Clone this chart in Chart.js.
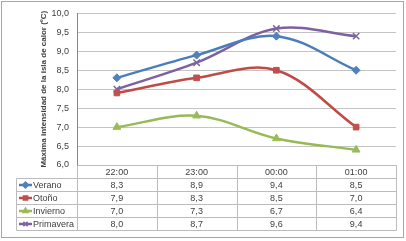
<!DOCTYPE html>
<html>
<head>
<meta charset="utf-8">
<script src="https://cdn.jsdelivr.net/npm/chart.js@4"></script>
<style>
  html, body { margin: 0; padding: 0; background: #fff; }
</style>
</head>
<body>
<canvas id="chart" width="406" height="241"></canvas>
<script>
// Datos
const horas = ["22:00", "23:00", "00:00", "01:00"];
const nombres = ["Verano", "Otoño", "Invierno", "Primavera"];
const verano = [8.3, 8.9, 9.4, 8.5];
const otono = [7.9, 8.3, 8.5, 7.0];
const invierno = [7.0, 7.3, 6.7, 6.4];
const primavera = [8.0, 8.7, 9.6, 9.4];
const yMin = 6, yMax = 10, yStep = 0.5;

const series = [verano, otono, invierno, primavera];
const lineas = ["#4a7ebb", "#be4b48", "#98b954", "#7d60a0"];
const rellenos = ["#4f81bd", "#c0504d", "#9bbb59", "#8064a2"];
const marcas = ["rectRot", "rect", "triangle", "crossRot"];
const radios = [4, 4, 4.5, 4.5];

const fmt = v => v.toFixed(1).replace(".", ",");
const fuente = "'Liberation Sans', Arial, sans-serif";

// Tabla de datos debajo del grafico
const tablaPlugin = {
  id: "tabla",
  afterDraw(chart) {
    const ctx = chart.ctx;
    const x = chart.scales.x;
    const a = chart.chartArea;
    const rowH = 13;
    const top = Math.round(a.bottom) + 0.5;
    const legLeft = 16.5;
    const bottom = top + rowH * (series.length + 1);

    const bordes = [Math.round(a.left) + 0.5];
    for (let i = 0; i < horas.length - 1; i++) {
      bordes.push(Math.round((x.getPixelForValue(i) + x.getPixelForValue(i + 1)) / 2) + 0.5);
    }
    bordes.push(Math.round(a.right) + 0.5);

    ctx.save();
    ctx.strokeStyle = "#bcbcbc";
    ctx.lineWidth = 1;
    ctx.beginPath();
    ctx.moveTo(bordes[0], top);
    ctx.lineTo(bordes[bordes.length - 1], top);
    for (let r = 1; r <= series.length + 1; r++) {
      const y = top + r * rowH;
      ctx.moveTo(legLeft, y);
      ctx.lineTo(bordes[bordes.length - 1], y);
    }
    bordes.forEach(b => {
      ctx.moveTo(b, top);
      ctx.lineTo(b, bottom);
    });
    ctx.moveTo(legLeft, top + rowH);
    ctx.lineTo(legLeft, bottom);
    ctx.stroke();

    ctx.fillStyle = "#404040";
    ctx.font = "9px " + fuente;
    ctx.textAlign = "center";
    ctx.textBaseline = "middle";
    horas.forEach((h, i) => {
      ctx.fillText(h, x.getPixelForValue(i), top + rowH / 2 + 0.5);
    });
    series.forEach((s, r) => {
      const y = top + rowH * (r + 1) + rowH / 2 + 0.5;
      s.forEach((v, i) => ctx.fillText(fmt(v), x.getPixelForValue(i), y));
      // clave de leyenda
      ctx.strokeStyle = lineas[r];
      ctx.lineWidth = 2.5;
      ctx.beginPath();
      ctx.moveTo(19, y - 0.5);
      ctx.lineTo(32, y - 0.5);
      ctx.stroke();
      ctx.fillStyle = rellenos[r];
      ctx.strokeStyle = rellenos[r];
      ctx.lineWidth = 1.5;
      Chart.helpers.drawPoint(ctx, { pointStyle: marcas[r], radius: 3, rotation: 0, borderWidth: 1.5 }, 25.5, y - 0.5);
      ctx.fillStyle = "#404040";
      ctx.textAlign = "left";
      ctx.fillText(nombres[r], 33, y);
      ctx.textAlign = "center";
    });

    // borde exterior
    ctx.strokeStyle = "#a6a6a6";
    ctx.lineWidth = 1;
    ctx.strokeRect(1.5, 1.5, 402, 236);
    ctx.restore();
  }
};

const ctx = document.getElementById("chart").getContext("2d");
const chart = new Chart(ctx, {
  type: "line",
  data: {
    labels: horas,
    datasets: series.map((s, i) => ({
      label: nombres[i],
      data: s,
      borderColor: lineas[i],
      backgroundColor: rellenos[i],
      pointBorderColor: rellenos[i],
      pointBackgroundColor: rellenos[i],
      pointStyle: marcas[i],
      pointRadius: radios[i],
      pointBorderWidth: i === 3 ? 1.5 : 1,
      borderWidth: 2.5,
      tension: 0.35,
      fill: false
    }))
  },
  options: {
    responsive: false,
    animation: false,
    layout: { padding: { left: 35, right: 10, top: 11, bottom: 76 } },
    plugins: {
      legend: { display: false },
      tooltip: { enabled: false }
    },
    scales: {
      x: {
        display: false,
        offset: true
      },
      y: {
        min: yMin,
        max: yMax,
        afterFit(scale) { scale.width = 42; },
        ticks: {
          stepSize: yStep,
          padding: 8,
          color: "#404040",
          font: { family: fuente, size: 9 },
          callback: v => fmt(v)
        },
        grid: {
          color: "#c4c4c4",
          drawTicks: false
        },
        border: { color: "#868686" },
        title: {
          display: true,
          text: "Máxima intensidad de la isla de calor (ºC)",
          color: "#404040",
          font: { family: fuente, size: 8, weight: "bold" },
          padding: { top: 4, bottom: 0 }
        }
      }
    }
  },
  plugins: [tablaPlugin]
});
</script>
</body>
</html>
